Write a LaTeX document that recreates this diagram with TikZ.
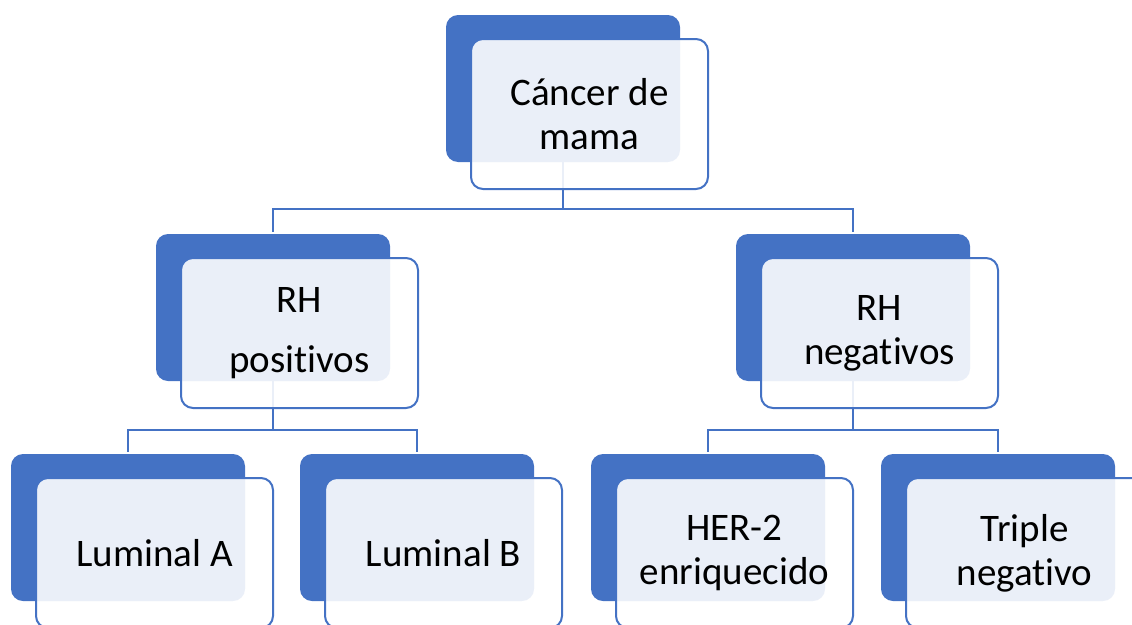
\documentclass[tikz,border=0pt]{standalone}
\usepackage{fontspec}
\setmainfont{Carlito}[RawFeature={-liga;-dlig;-calt}]
\newcommand\tii{t\kern0pt i}
\definecolor{accent}{HTML}{4472C4}
\tikzset{
  bluebox/.style={fill=accent, rounded corners=12pt, minimum width=234pt, minimum height=147pt, inner sep=0pt, outer sep=0pt, anchor=north west},
  lightbox/.style={draw=accent, line width=2pt, fill=white, fill opacity=0.89, draw opacity=1, text opacity=1, rounded corners=12pt, minimum width=237pt, minimum height=150pt, inner sep=0pt, outer sep=0pt, anchor=north west, align=center, font=\fontsize{39}{44}\selectfont, text=black},
  conn/.style={draw=accent, line width=2pt},
}
\begin{document}
\begin{tikzpicture}[x=1pt,y=-1pt]
\useasboundingbox (0,0) rectangle (1132,624);
\clip (0,0) rectangle (1132,624);
% back boxes
\node[bluebox] (cb) at (446,15) {};
\node[bluebox] (pb) at (156,234) {};
\node[bluebox] (nb) at (736,234) {};
\node[bluebox] (lab) at (11,454) {};
\node[bluebox] (lbb) at (300,454) {};
\node[bluebox] (heb) at (591,454) {};
\node[bluebox] (trb) at (881,454) {};
% connectors
\draw[conn] (cb.south) -- ++(0,47) coordinate (h1) -| ([yshift=2pt]pb.north);
\draw[conn] (h1) -| ([yshift=2pt]nb.north);
\draw[conn] (pb.south) -- ++(0,49) coordinate (h2) -| ([yshift=2pt]lab.north);
\draw[conn] (h2) -| ([yshift=2pt]lbb.north);
\draw[conn] (nb.south) -- ++(0,49) coordinate (h3) -| ([yshift=2pt]heb.north);
\draw[conn] (h3) -| ([yshift=2pt]trb.north);
% front boxes
\node[lightbox] (c) at (471,39) {Cáncer de\\mama};
\node[lightbox] (p) at (181,258) {RH\\[16pt]posi\tii vos};
\node[lightbox] (n) at (761,258) {RH\\nega\tii vos};
\node[lightbox] (la) at (36,478) {Luminal A};
\node[lightbox] (lb) at (325,478) {Luminal B};
\node[lightbox] (he) at (616,478) {HER-2\\enriquecido};
\node[lightbox] (tr) at (906,478) {Triple\\nega\tii vo};
\end{tikzpicture}
\end{document}
